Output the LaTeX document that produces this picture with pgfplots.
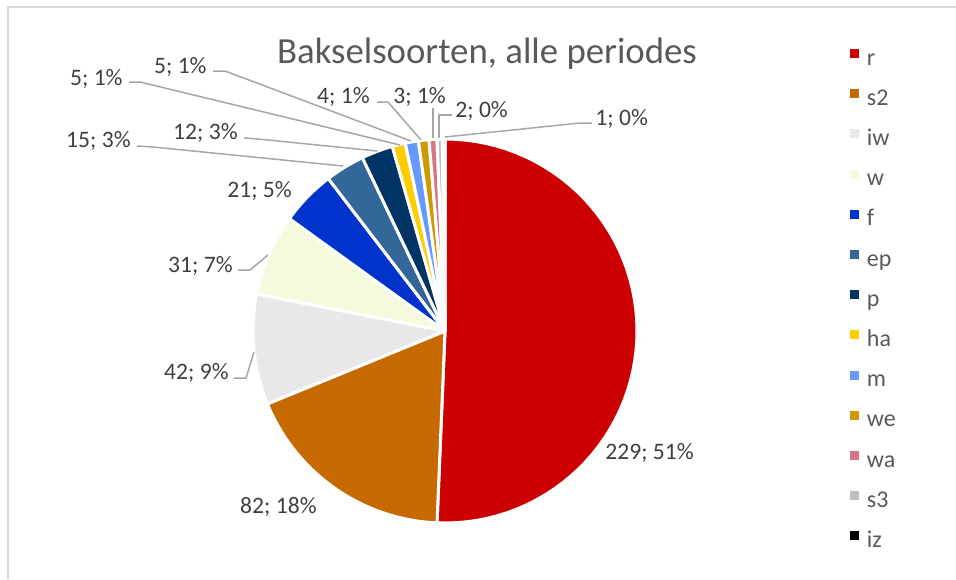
\documentclass[border=0pt]{standalone}
\usepackage{fontspec}
\setmainfont{Carlito}
\usepackage{pgfplots}
\usepackage{pgfplotstable}
\pgfplotsset{compat=1.18}

\definecolor{cR}{HTML}{CC0000}
\definecolor{cSt}{HTML}{C66A00}
\definecolor{cIW}{HTML}{E8E8E8}
\definecolor{cW}{HTML}{F4FADC}
\definecolor{cF}{HTML}{0033CC}
\definecolor{cEP}{HTML}{336699}
\definecolor{cP}{HTML}{003366}
\definecolor{cHA}{HTML}{FFCC00}
\definecolor{cM}{HTML}{6699FF}
\definecolor{cWE}{HTML}{CC9900}
\definecolor{cWA}{HTML}{D67585}
\definecolor{cSd}{HTML}{BFBFBF}
\definecolor{cIZ}{HTML}{000000}
\definecolor{labelgray}{HTML}{404040}
\definecolor{titlegray}{HTML}{595959}
\definecolor{leadergray}{HTML}{A6A6A6}
\definecolor{framegray}{HTML}{D9D9D9}

% bakselsoorten, clockwise from 12 o'clock
\pgfplotstableread{
name value color
r    229   cR
s2   82    cSt
iw   42    cIW
w    31    cW
f    21    cF
ep   15    cEP
p    12    cP
ha   5     cHA
m    5     cM
we   4     cWE
wa   3     cWA
s3   2     cSd
iz   1     cIZ
}\piedata

\begin{document}
\begin{tikzpicture}[
  lbl/.style={font=\fontsize{11.8}{14}\selectfont, text=labelgray, inner sep=0pt},
  leader/.style={leadergray, line width=0.75pt},
]
\pgfplotstablegetrowsof{\piedata}
\pgfmathtruncatemacro\lastrow{\pgfplotsretval-1}
\def\total{0}
\pgfplotsforeachungrouped \i in {0,...,\lastrow}{%
  \pgfplotstablegetelem{\i}{value}\of\piedata
  \pgfmathsetmacro\total{\total+\pgfplotsretval}}
\begin{axis}[
  width=478pt, height=289.5pt, scale only axis,
  xmin=0, xmax=956, ymin=0, ymax=579, y dir=reverse,
  hide axis, clip=false,
  legend image code/.code={\fill[#1,draw=none] (0pt,0.55pt) rectangle (4.5pt,5.05pt);},
  legend cell align=left,
  legend style={at={(0.8891,0.9171)}, anchor=north west, draw=none, fill=none,
    inner sep=0pt, outer sep=0pt, row sep=9.1pt, column sep=4pt,
    font=\fontsize{12}{14}\selectfont, text=titlegray,
    nodes={inner sep=0pt, text height=8.5pt, text depth=2.5pt}},
]
\coordinate (bl) at (axis cs:0,579);
\coordinate (tr) at (axis cs:956,0);
\draw[framegray, line width=0.75pt] (axis cs:8,579) -- (axis cs:8,7) -- (axis cs:956,7);

\def\cum{0}
\pgfplotsforeachungrouped \i in {0,...,\lastrow}{%
  \pgfplotstablegetelem{\i}{value}\of\piedata \let\sval\pgfplotsretval
  \pgfplotstablegetelem{\i}{color}\of\piedata \let\scol\pgfplotsretval
  \pgfplotstablegetelem{\i}{name}\of\piedata \let\sname\pgfplotsretval
  \pgfmathsetmacro\sa{\cum/\total*360}
  \pgfmathsetmacro\cum{\cum+\sval}
  \pgfmathsetmacro\sb{\cum/\total*360}
  \edef\temp{\noexpand\addplot[fill=\scol, draw=white, line width=1.5pt,
      line join=round, domain=\sa:\sb, samples=60]
    ({445+192*sin(x)},{331-192*cos(x)}) -- (axis cs:445,331) -- cycle;
    \noexpand\addlegendentry{\sname}}
  \temp
}

% leader lines
\addplot[forget plot, leader] coordinates {(234,378) (246,378) (254,352)};
\addplot[forget plot, leader] coordinates {(238,270) (250,270) (268,255)};
\addplot[forget plot, leader] coordinates {(137,146) (153,147) (343,166)};
\addplot[forget plot, leader] coordinates {(244,138) (258,139) (377,151)};
\addplot[forget plot, leader] coordinates {(129,82) (140,82) (400,145)};
\addplot[forget plot, leader] coordinates {(213,71) (225,71) (411,141)};
\addplot[forget plot, leader] coordinates {(377,102) (388,102) (421,140)};
\addplot[forget plot, leader] coordinates {(433,108) (433,138)};
\addplot[forget plot, leader] coordinates {(452,115) (439,115) (439,138)};
\addplot[forget plot, leader] coordinates {(592,123) (580,123) (445,137)};

% data labels
\node[lbl, anchor=base west] at (axis cs:605,459) {229; 51\%};
\node[lbl, anchor=base east] at (axis cs:317,513) {82; 18\%};
\node[lbl, anchor=base east] at (axis cs:229,379) {42; 9\%};
\node[lbl, anchor=base east] at (axis cs:233,272) {31; 7\%};
\node[lbl, anchor=base west] at (axis cs:227,197) {21; 5\%};
\node[lbl, anchor=base east] at (axis cs:131,147) {15; 3\%};
\node[lbl, anchor=base east] at (axis cs:238,139) {12; 3\%};
\node[lbl, anchor=base east] at (axis cs:123,85) {5; 1\%};
\node[lbl, anchor=base east] at (axis cs:207,73) {5; 1\%};
\node[lbl, anchor=base east] at (axis cs:370,103) {4; 1\%};
\node[lbl, anchor=base west] at (axis cs:393,103) {3; 1\%};
\node[lbl, anchor=base west] at (axis cs:455,117) {2; 0\%};
\node[lbl, anchor=base west] at (axis cs:595,125) {1; 0\%};

\node[font=\fontsize{18.4}{22}\selectfont, text=titlegray, anchor=base, inner sep=0pt]
  at (axis cs:487,63) {Bakselsoorten, alle periodes};
\end{axis}
\pgfresetboundingbox
\path (bl) rectangle (tr);
\end{tikzpicture}
\end{document}
